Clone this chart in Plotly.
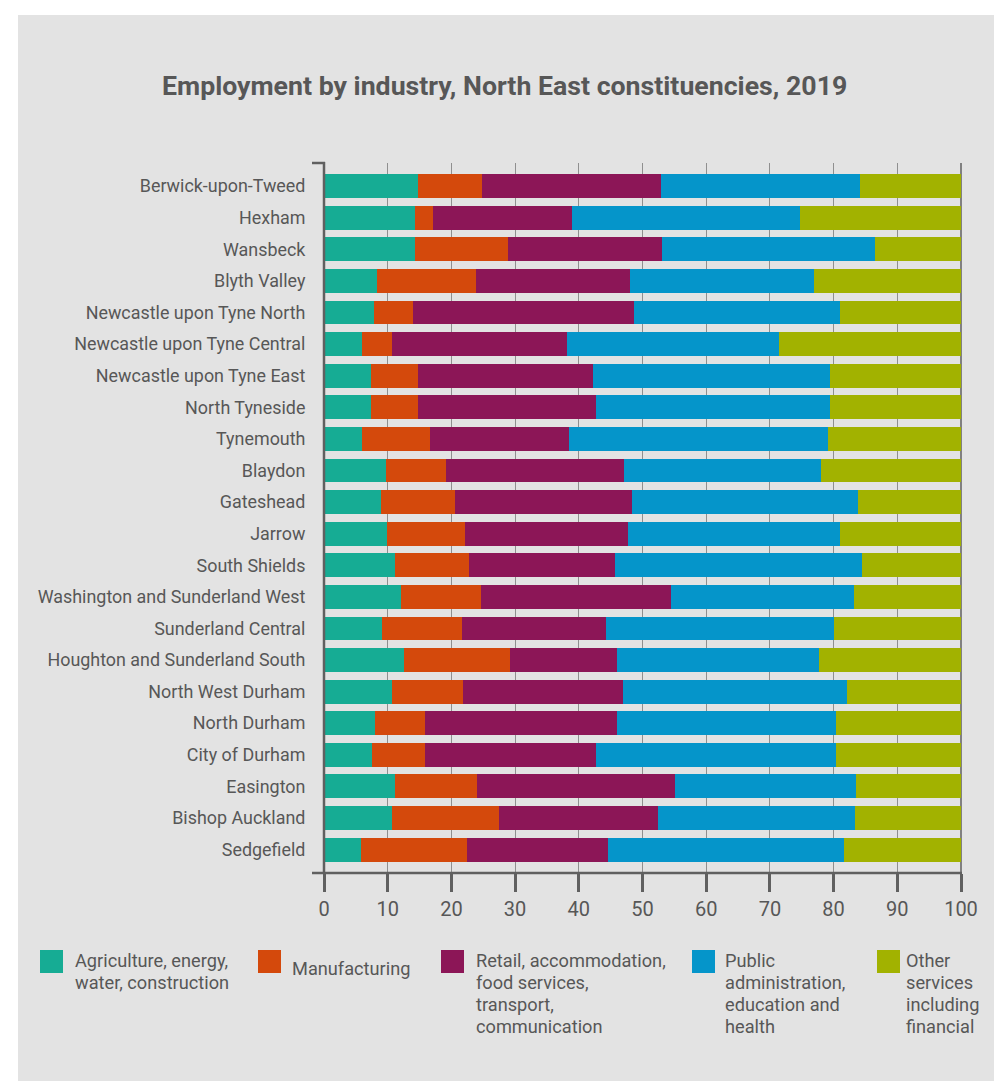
import plotly.graph_objects as go

constituencies = [
    "Berwick-upon-Tweed", "Hexham", "Wansbeck", "Blyth Valley",
    "Newcastle upon Tyne North", "Newcastle upon Tyne Central",
    "Newcastle upon Tyne East", "North Tyneside", "Tynemouth", "Blaydon",
    "Gateshead", "Jarrow", "South Shields", "Washington and Sunderland West",
    "Sunderland Central", "Houghton and Sunderland South", "North West Durham",
    "North Durham", "City of Durham", "Easington", "Bishop Auckland", "Sedgefield",
]

agriculture = [14.8, 14.3, 14.3, 8.3, 7.8, 5.9, 7.3, 7.3, 5.9, 9.7, 9.0, 9.9,
               11.2, 12.1, 9.1, 12.6, 10.7, 8.0, 7.6, 11.2, 10.6, 5.8]
manufacturing = [10.0, 2.8, 14.6, 15.6, 6.2, 4.8, 7.5, 7.5, 10.8, 9.5, 11.6, 12.3,
                 11.6, 12.6, 12.6, 16.6, 11.1, 7.8, 8.2, 12.8, 16.9, 16.6]
retail = [28.1, 21.9, 24.2, 24.2, 34.7, 27.4, 27.4, 27.9, 21.8, 27.9, 27.7, 25.6,
          22.9, 29.7, 22.5, 16.8, 25.1, 30.2, 26.9, 31.1, 24.9, 22.2]
public = [31.2, 35.7, 33.4, 28.8, 32.3, 33.4, 37.2, 36.7, 40.6, 30.9, 35.5, 33.2,
          38.7, 28.8, 35.9, 31.7, 35.2, 34.3, 37.6, 28.4, 30.9, 37.1]
other = [15.9, 25.3, 13.5, 23.1, 19.0, 28.5, 20.6, 20.6, 20.9, 22.0, 16.2, 19.0,
         15.6, 16.8, 19.9, 22.3, 17.9, 19.7, 19.7, 16.5, 16.7, 18.3]

series_names = [
    "Agriculture, energy,<br>water, construction",
    "Manufacturing",
    "Retail, accommodation,<br>food services,<br>transport,<br>communication",
    "Public<br>administration,<br>education and<br>health",
    "Other<br>services<br>including<br>financial",
]
series_values = [agriculture, manufacturing, retail, public, other]
colors = ["#16ac94", "#d4490c", "#8c1657", "#0595ca", "#a2b200"]

x_ticks = [0, 10, 20, 30, 40, 50, 60, 70, 80, 90, 100]

W, H = 994, 1081
L, R, T, B = 324, 961, 163, 873
TEXT = "#575757"
AXIS = "#606060"
BG = "#e3e3e3"
FONT = "Roboto"


def px(xp):
    return (xp - L) / (R - L)


def py(yp):
    return (B - yp) / (B - T)


fig = go.Figure()
for name, vals, col in zip(series_names, series_values, colors):
    fig.add_trace(go.Bar(
        y=constituencies, x=vals, name=name.replace("<br>", " "), orientation="h",
        marker=dict(color=col, line=dict(width=0)), showlegend=False,
    ))

shapes = [
    # grey panel
    dict(type="rect", xref="paper", yref="paper", x0=px(18), x1=px(W + 5),
         y0=py(H + 5), y1=py(15), fillcolor=BG, line=dict(width=0), layer="below"),
    # left axis line
    dict(type="line", xref="paper", yref="paper", x0=px(324), x1=px(324),
         y0=py(874), y1=py(162), line=dict(color=AXIS, width=2.5), layer="above"),
    # top bracket
    dict(type="line", xref="paper", yref="paper", x0=px(312), x1=px(325),
         y0=py(163), y1=py(163), line=dict(color=AXIS, width=2.5), layer="above"),
    # bottom axis line
    dict(type="line", xref="paper", yref="paper", x0=px(312), x1=px(962),
         y0=py(873), y1=py(873), line=dict(color=AXIS, width=2.5), layer="above"),
    # right edge line at 100
    dict(type="line", xref="paper", yref="paper", x0=px(961), x1=px(961),
         y0=py(873), y1=py(163), line=dict(color=AXIS, width=1.5), layer="below"),
]

annotations = [
    dict(text="<b>Employment by industry, North East constituencies, 2019</b>",
         xref="paper", yref="paper", x=px(504), y=py(86), xanchor="center",
         yanchor="middle", showarrow=False,
         font=dict(family=FONT, size=26.7, color=TEXT)),
]

legend_sq_x = [40, 258, 441, 692, 877]
legend_tx_x = [75, 292, 476, 725, 906]
legend_tx_y = [960, 968, 960, 960, 960]
LINE_GAP = 22.3
for i, (name, col) in enumerate(zip(series_names, colors)):
    x0 = legend_sq_x[i]
    shapes.append(dict(type="rect", xref="paper", yref="paper",
                       x0=px(x0), x1=px(x0 + 23), y0=py(973), y1=py(950),
                       fillcolor=col, line=dict(width=0), layer="above"))
    for j, line in enumerate(name.split("<br>")):
        annotations.append(dict(text=line, xref="paper", yref="paper",
                                x=px(legend_tx_x[i]),
                                y=py(legend_tx_y[i] + j * LINE_GAP),
                                xanchor="left", yanchor="middle", align="left",
                                showarrow=False, xshift=-2,
                                font=dict(family=FONT, size=18.2, color=TEXT)))

fig.update_layout(
    width=W, height=H,
    margin=dict(l=L, r=W - R, t=T, b=H - B, pad=0),
    paper_bgcolor="white", plot_bgcolor=BG,
    barmode="stack", bargap=0.245,
    font=dict(family=FONT, color=TEXT),
    shapes=shapes, annotations=annotations,
    xaxis=dict(range=[0, 100], tickvals=x_ticks, ticktext=[str(v) for v in x_ticks],
               showgrid=True, gridcolor="#8f8f8f", gridwidth=1, zeroline=False,
               showline=False, ticks="outside", ticklen=18, tickwidth=2.5,
               tickcolor=AXIS, tickfont=dict(family=FONT, size=20, color=TEXT),
               fixedrange=True),
    yaxis=dict(categoryorder="array", categoryarray=constituencies,
               range=[21.74, -0.73], showgrid=False, zeroline=False, showline=False,
               ticks="outside", ticklen=14, tickcolor="rgba(0,0,0,0)",
               tickfont=dict(family=FONT, size=17.9, color=TEXT), fixedrange=True),
)

fig.write_html("out.html", config={"displayModeBar": False},
               post_script="document.body.style.margin='0';document.body.style.padding='0';")
